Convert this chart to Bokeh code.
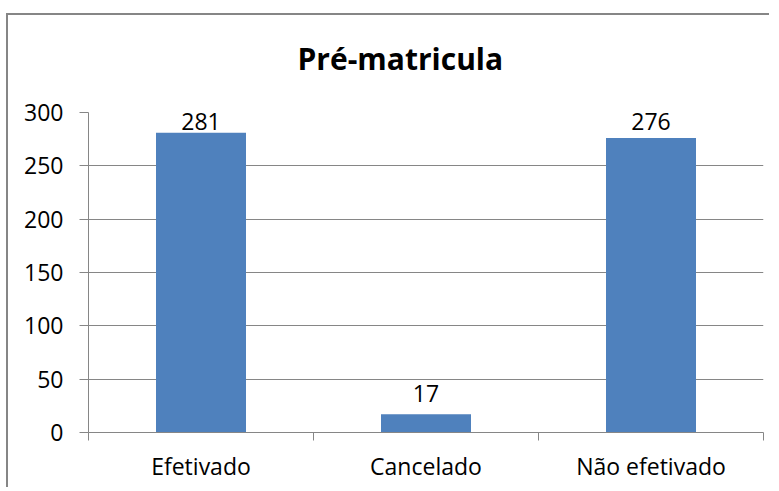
import numpy as np
from bokeh.plotting import figure
from bokeh.models import Range1d, FixedTicker, ColumnDataSource, Title
from bokeh.core.properties import value
from bokeh.embed import file_html
from bokeh.resources import INLINE

categories = ["Efetivado", "Cancelado", "Não efetivado"]
counts = [281, 17, 276]
y_ticks = [0, 50, 100, 150, 200, 250, 300]
title_text = "Pré-matricula"

GRAY = "#868686"
BLUE = "#4F81BD"
FONT = "Open Sans"

xs = np.arange(len(categories)) + 0.5
vals = np.array(counts, dtype=float)
label_y = np.minimum(vals + 11, 283)

src = ColumnDataSource(dict(x=xs, top=vals, ly=label_y, txt=[str(c) for c in counts]))

p = figure(width=763, height=474, output_backend="svg", toolbar_location=None,
           x_range=Range1d(0, len(categories)), y_range=Range1d(0, max(y_ticks)),
           min_border_left=80, min_border_right=8, min_border_top=97, min_border_bottom=57,
           styles={"margin-left": "6px", "margin-top": "13px",
                   "border-left": "2px solid " + GRAY, "border-top": "2px solid " + GRAY})
p.outline_line_color = None
p.background_fill_color = "white"
p.border_fill_color = "white"

p.vbar(x="x", top="top", width=0.4, source=src, fill_color=BLUE, line_color=None)
p.text(x="x", y="ly", text="txt", source=src, text_align="center", text_baseline="alphabetic",
       y_offset=-9, text_font=value(FONT), text_font_size="23px", text_color="black")

# spacer between title and plot area
spacer = Title(text=" ", text_font_size="1px", standoff=31)
p.add_layout(spacer, "above")

# title
p.title.text = title_text
p.title.text_font = FONT
p.title.text_font_size = "30px"
p.title.text_font_style = "bold"
p.title.text_color = "black"
p.title.align = "left"
p.title.offset = 209
p.title.standoff = 0

# y axis
yax = p.yaxis[0]
yax.ticker = FixedTicker(ticks=y_ticks, minor_ticks=[])
yax.axis_line_color = GRAY
yax.major_tick_line_color = GRAY
yax.major_tick_out = 9
yax.major_tick_in = 0
yax.minor_tick_line_color = None
yax.major_label_text_font = FONT
yax.major_label_text_font_size = "23px"
yax.major_label_text_color = "black"
yax.major_label_standoff = 16

# x axis
xax = p.xaxis[0]
xax.ticker = FixedTicker(ticks=list(xs), minor_ticks=list(range(len(categories) + 1)))
xax.major_label_overrides = {float(x): c for x, c in zip(xs, categories)}
xax.axis_line_color = GRAY
xax.major_tick_line_color = None
xax.major_tick_out = 0
xax.major_tick_in = 0
xax.minor_tick_line_color = GRAY
xax.minor_tick_out = 8
xax.minor_tick_in = 0
xax.major_label_text_font = FONT
xax.major_label_text_font_size = "23px"
xax.major_label_text_color = "black"
xax.major_label_standoff = 9

p.xgrid.grid_line_color = None
p.ygrid.grid_line_color = GRAY
p.ygrid.ticker = FixedTicker(ticks=y_ticks)

open("out.html", "w").write(file_html(p, INLINE))
